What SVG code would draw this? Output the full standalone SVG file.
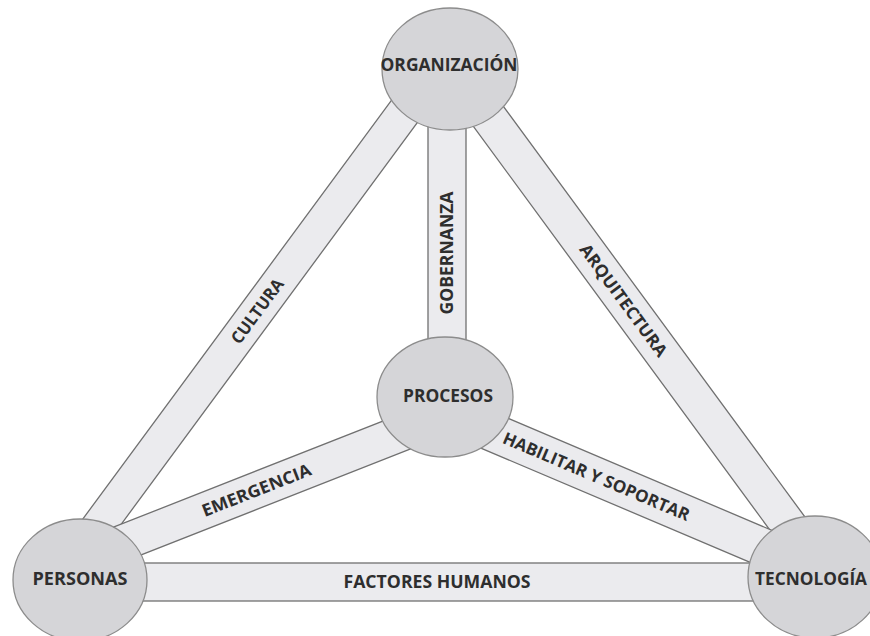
<svg xmlns="http://www.w3.org/2000/svg" width="870" height="636" viewBox="0 0 870 636">
<style>
.band{fill:#ebebee;stroke:#707070;stroke-width:1.3}
.node{fill:#d5d5d8;stroke:#8c8c8c;stroke-width:1.3}
.lbl{font-family:"Open Sans","Liberation Sans",sans-serif;font-weight:bold;font-size:17px;fill:#2e2e2e;text-anchor:middle}
</style>
<rect width="870" height="636" fill="#ffffff"/>
<g id="connectors">
  <g id="cultura" transform="translate(252.5,317.5) rotate(-53.6)">
    <rect class="band" x="-300" y="-17" width="600" height="34"/>
    <text class="lbl" x="8" y="6" textLength="76" lengthAdjust="spacingAndGlyphs">CULTURA</text>
  </g>
  <g id="arquitectura" transform="translate(637.75,319.75) rotate(53.7)">
    <rect class="band" x="-300" y="-18" width="600" height="36"/>
    <text class="lbl" x="-24" y="6" textLength="135" lengthAdjust="spacingAndGlyphs">ARQUITECTURA</text>
  </g>
  <g id="gobernanza" transform="translate(447,253) rotate(-90)">
    <rect class="band" x="-160" y="-19" width="320" height="38"/>
    <text class="lbl" x="0" y="6" textLength="123" lengthAdjust="spacingAndGlyphs">GOBERNANZA</text>
  </g>
  <g id="emergencia" transform="translate(262,488) rotate(-21.5)">
    <rect class="band" x="-180" y="-18" width="360" height="36"/>
    <text class="lbl" x="-6" y="6" textLength="116" lengthAdjust="spacingAndGlyphs">EMERGENCIA</text>
  </g>
  <g id="habilitar" transform="translate(600,478) rotate(23)">
    <rect class="band" x="-170" y="-19" width="400" height="38"/>
    <text class="lbl" x="-4" y="6" textLength="201" lengthAdjust="spacingAndGlyphs">HABILITAR Y SOPORTAR</text>
  </g>
  <g id="factores">
    <rect class="band" x="100" y="563" width="690" height="38"/>
    <text class="lbl" x="437" y="588" textLength="187" lengthAdjust="spacingAndGlyphs">FACTORES HUMANOS</text>
  </g>
</g>
<g id="organizacion">
  <ellipse class="node" cx="450" cy="69" rx="68" ry="61"/>
  <text class="lbl" x="449" y="71" textLength="137" lengthAdjust="spacingAndGlyphs">ORGANIZACIÓN</text>
</g>
<g id="procesos">
  <ellipse class="node" cx="445" cy="397" rx="68" ry="60"/>
  <text class="lbl" x="448" y="402" textLength="90" lengthAdjust="spacingAndGlyphs">PROCESOS</text>
</g>
<g id="personas">
  <ellipse class="node" cx="80" cy="580" rx="67" ry="61"/>
  <text class="lbl" x="80" y="585" textLength="95" lengthAdjust="spacingAndGlyphs">PERSONAS</text>
</g>
<g id="tecnologia">
  <ellipse class="node" cx="815" cy="577" rx="67" ry="61"/>
  <text class="lbl" x="811" y="585" textLength="112" lengthAdjust="spacingAndGlyphs">TECNOLOGÍA</text>
</g>
</svg>
